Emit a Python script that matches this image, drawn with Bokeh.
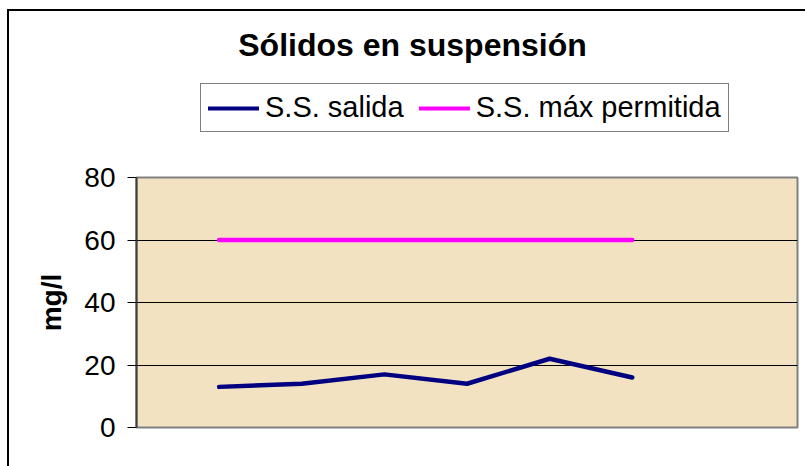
from bokeh.plotting import figure
from bokeh.layouts import column
from bokeh.models import Range1d, FixedTicker, Legend, LegendItem, Label
from bokeh.embed import file_html
from bokeh.resources import INLINE

# ---- data ----
muestras = [1, 2, 3, 4, 5, 6]
ss_salida = [13, 14, 17, 14, 22, 16]
ss_max = [60, 60, 60, 60, 60, 60]
y_ticks = [0, 20, 40, 60, 80]
title_text = "Sólidos en suspensión"
serie1 = "S.S. salida"
serie2 = "S.S. máx permitida"
y_label = "mg/l"

FONT = "Liberation Sans"
NAVY = "#000080"
MAGENTA = "#FF00FF"

W = 796
HEAD_H = 146
MAIN_H = 309

# ---- header (title + legend); its own view range keeps the series out of sight ----
head = figure(width=W, height=HEAD_H, output_backend="svg", toolbar_location=None,
              x_range=Range1d(100, 101), y_range=Range1d(100, 101),
              min_border_left=0, min_border_right=0, min_border_top=0,
              min_border_bottom=0)
head.title.visible = False
head.axis.visible = False
head.grid.visible = False
head.outline_line_color = None
head.background_fill_color = "white"
head.border_fill_color = "white"

h1 = head.line(muestras, ss_salida, line_color=NAVY, line_width=4, line_cap="round")
h2 = head.line(muestras, ss_max, line_color=MAGENTA, line_width=4, line_cap="round")

legend = Legend(items=[LegendItem(label=serie1, renderers=[h1]),
                       LegendItem(label=serie2, renderers=[h2])],
                orientation="horizontal", location=(64, 25),
                label_text_font=FONT, label_text_font_size="29px",
                label_text_color="black",
                glyph_width=51, glyph_height=20, label_standoff=6, spacing=15,
                padding=7, margin=0,
                border_line_color="black", border_line_width=1,
                background_fill_color="white", background_fill_alpha=1)
head.add_layout(legend, "center")

title = Label(x=276, y=113, x_units="screen", y_units="screen", text=title_text,
              text_font=FONT, text_font_size="32px", text_font_style="bold",
              text_align="center", text_baseline="alphabetic", text_color="black")
head.add_layout(title)

# ---- main chart ----
p = figure(width=W, height=MAIN_H, output_backend="svg", toolbar_location=None,
           x_range=Range1d(0, 8), y_range=Range1d(0, 80),
           min_border_left=127, min_border_right=8, min_border_top=20,
           min_border_bottom=39)
p.title.visible = False
p.background_fill_color = "#F2E2C2"
p.border_fill_color = "white"
p.outline_line_color = "#808080"
p.outline_line_width = 2

p.xaxis.visible = False
p.xgrid.visible = False

p.yaxis.ticker = FixedTicker(ticks=y_ticks)
p.yaxis.major_label_text_font = FONT
p.yaxis.major_label_text_font_size = "28px"
p.yaxis.major_label_text_color = "black"
p.yaxis.major_label_standoff = 12
p.yaxis.major_tick_out = 9
p.yaxis.major_tick_in = 0
p.yaxis.minor_tick_out = 0
p.yaxis.minor_tick_in = 0
p.yaxis.major_tick_line_color = "black"
p.yaxis.axis_line_color = "#404040"
p.yaxis.axis_line_width = 2
p.yaxis.axis_label = y_label
p.yaxis.axis_label_text_font = FONT
p.yaxis.axis_label_text_font_size = "28px"
p.yaxis.axis_label_text_font_style = "bold"
p.yaxis.axis_label_text_color = "black"
p.yaxis.axis_label_standoff = 14

p.ygrid.ticker = FixedTicker(ticks=[20, 40, 60])
p.ygrid.grid_line_color = "black"
p.ygrid.grid_line_width = 1

p.line(muestras, ss_salida, line_color=NAVY, line_width=4.5,
       line_cap="round", line_join="round")
p.line(muestras, ss_max, line_color=MAGENTA, line_width=4.5,
       line_cap="round", line_join="round")

layout = column(head, p, spacing=0)
layout.margin = (11, 0, 0, 9)
layout.styles = {"outline": "2px solid black"}

open("out.html", "w").write(file_html(layout, INLINE))
